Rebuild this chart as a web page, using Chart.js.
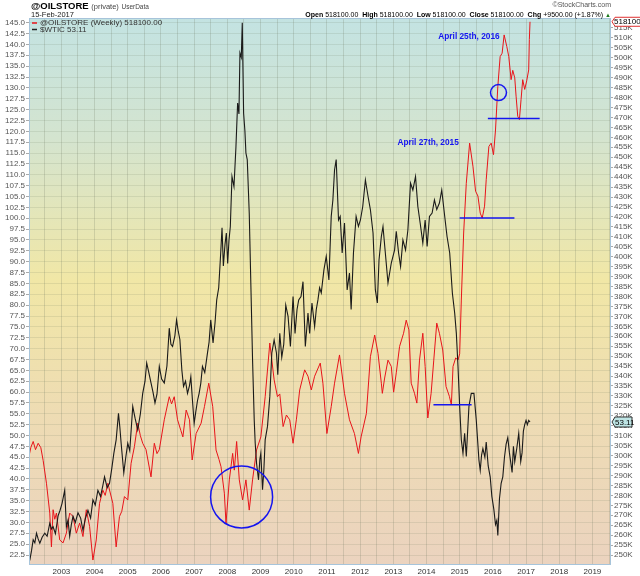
<!DOCTYPE html>
<html><head><meta charset="utf-8">
<script src="https://cdn.jsdelivr.net/npm/chart.js@4.4.1/dist/chart.umd.min.js"></script>
<style>
html,body{margin:0;padding:0;background:#fff;}
#wrap{position:relative;width:640px;height:576px;overflow:hidden;font-family:"Liberation Sans",Arial,sans-serif;}
canvas{position:absolute;left:0;top:0;}
.h{position:absolute;white-space:nowrap;color:#000;line-height:1;}
</style></head><body>
<div id="wrap">
<canvas id="c" width="640" height="576"></canvas>
<div class="h" style="left:31px;top:1px;font-size:9.5px;font-weight:bold;">@OILSTORE <span style="font-weight:normal;font-size:7.5px;color:#444">(private)</span> <span style="font-weight:normal;font-size:6.5px;color:#444">UserData</span></div>
<div class="h" style="left:31px;top:11px;font-size:7.5px;color:#222">15-Feb-2017</div>
<div class="h" style="right:29px;top:1px;font-size:7px;color:#555">©StockCharts.com</div>
<div class="h" style="right:29px;top:11px;font-size:7px;"><b>Open</b> 518100.00 &nbsp;<b>High</b> 518100.00 &nbsp;<b>Low</b> 518100.00 &nbsp;<b>Close</b> 518100.00 &nbsp;<b>Chg</b> +9500.00 (+1.87%) <span style="color:#1a7a1a;font-size:6px">▲</span></div>
</div>
<script>
// ---------------- DATA ----------------
const yearLabels = [2003,2004,2005,2006,2007,2008,2009,2010,2011,2012,2013,2014,2015,2016,2017,2018,2019];
const leftTicks = []; for (let v = 22.5; v <= 145.001; v += 2.5) leftTicks.push(+v.toFixed(1));
const rightTicks = []; for (let v = 250; v <= 515; v += 5) rightTicks.push(v);

const wticDates = [2002.02,2002.05,2002.10,2002.15,2002.20,2002.25,2002.30,2002.35,2002.42,2002.50,2002.57,2002.65,2002.70,2002.75,2002.82,2002.90,2002.96,
2003.02,2003.10,2003.15,2003.20,2003.25,2003.30,2003.35,2003.42,2003.50,2003.58,2003.65,2003.72,2003.80,2003.88,2003.95,
2004.02,2004.10,2004.18,2004.25,2004.30,2004.38,2004.45,2004.52,2004.58,2004.65,2004.72,2004.76,2004.80,2004.88,2004.94,
2005.00,2005.06,2005.15,2005.22,2005.30,2005.38,2005.45,2005.52,2005.57,2005.62,2005.70,2005.76,2005.82,2005.88,2005.95,
2006.02,2006.10,2006.18,2006.25,2006.30,2006.35,2006.42,2006.47,2006.52,2006.57,2006.63,2006.68,2006.74,2006.80,2006.86,2006.90,2006.95,
2007.00,2007.05,2007.10,2007.15,2007.20,2007.25,2007.32,2007.40,2007.45,2007.50,2007.57,2007.63,2007.68,2007.74,2007.80,2007.84,2007.88,2007.93,2007.97,
2008.01,2008.05,2008.09,2008.14,2008.20,2008.26,2008.31,2008.35,2008.38,2008.42,2008.45,2008.49,2008.53,2008.56,2008.60,2008.66,2008.71,2008.76,2008.81,2008.84,2008.88,2008.94,2008.98,
2009.01,2009.06,2009.10,2009.14,2009.21,2009.28,2009.34,2009.41,2009.48,2009.52,2009.58,2009.64,2009.70,2009.76,2009.83,2009.90,2009.98,
2010.04,2010.10,2010.15,2010.22,2010.28,2010.35,2010.43,2010.48,2010.55,2010.63,2010.68,2010.73,2010.78,2010.83,2010.91,2010.98,
2011.06,2011.13,2011.18,2011.23,2011.28,2011.35,2011.40,2011.46,2011.53,2011.61,2011.68,2011.73,2011.80,2011.88,2011.95,
2012.01,2012.08,2012.16,2012.24,2012.31,2012.39,2012.46,2012.52,2012.57,2012.64,2012.69,2012.77,2012.84,2012.94,
2013.04,2013.09,2013.16,2013.22,2013.29,2013.37,2013.44,2013.52,2013.59,2013.67,2013.74,2013.81,2013.89,2013.96,
2014.02,2014.09,2014.17,2014.24,2014.31,2014.39,2014.46,2014.55,2014.62,2014.70,2014.78,2014.85,2014.90,2014.95,
2015.00,2015.05,2015.10,2015.15,2015.20,2015.28,2015.35,2015.43,2015.50,2015.58,2015.62,2015.66,2015.70,2015.76,2015.80,2015.86,2015.92,2015.97,
2016.03,2016.08,2016.12,2016.15,2016.20,2016.25,2016.30,2016.35,2016.40,2016.45,2016.50,2016.58,2016.62,2016.66,2016.72,2016.78,2016.84,2016.88,2016.92,2016.96,
2017.00,2017.04,2017.08,2017.12];
const wticValues = [20.8,21.4,23.5,26.0,25.3,27.5,26.2,25.2,26.6,27.5,26.8,29.8,28.5,29.0,27.4,31.5,32.8,
34.4,37.4,29.0,30.5,26.8,29.5,31.4,30.0,32.2,31.0,28.2,30.8,32.8,31.0,35.2,
34.0,37.4,36.0,38.5,40.5,38.0,39.0,42.5,45.9,49.0,55.1,52.0,48.2,41.4,45.0,
48.2,46.5,56.7,54.0,51.3,55.0,59.7,62.5,66.7,65.0,62.1,60.0,57.5,59.5,65.9,
63.0,62.1,66.0,74.7,71.0,70.5,73.0,76.6,74.0,72.1,65.0,61.3,62.5,59.7,61.5,63.5,58.0,
52.8,55.5,58.0,59.7,62.0,65.9,64.5,68.9,71.5,76.6,71.3,76.0,81.2,84.0,92.0,97.8,89.0,94.0,96.6,
89.6,95.0,98.1,109.6,107.3,116.5,126.5,124.0,138.0,137.0,145.0,124.2,120.0,115.0,113.5,101.2,84.3,67.4,53.6,48.2,43.6,39.8,44.5,
45.9,37.5,42.0,49.0,52.1,59.0,69.0,72.0,69.0,64.0,73.5,68.0,71.0,80.0,77.4,70.5,82.0,
73.5,79.0,81.2,82.0,85.4,70.5,78.2,73.5,80.5,75.1,79.0,81.2,84.0,82.8,88.1,91.2,
85.8,100.4,104.2,111.1,113.5,99.6,100.4,92.0,98.9,83.5,87.4,79.0,92.0,100.4,98.1,
99.6,102.7,108.8,105.0,102.0,96.6,83.5,80.5,90.4,95.8,98.1,91.2,85.1,89.7,
92.7,97.0,92.0,88.9,95.0,92.7,97.3,108.1,106.5,109.6,102.7,98.9,94.3,99.6,
93.5,100.4,101.2,104.2,102.0,103.5,106.5,100.4,95.8,92.0,82.8,78.2,73.5,65.9,
56.7,49.0,45.9,50.5,45.2,56.7,59.7,59.7,53.6,44.4,42.0,45.5,47.0,45.0,48.5,43.0,40.5,36.0,
33.0,29.5,30.5,27.0,35.5,39.0,40.5,45.0,48.0,49.5,46.0,41.5,47.5,44.0,47.0,50.5,44.0,46.0,51.0,52.5,
53.5,52.5,53.5,53.11];

const oilDates = [2002.02,2002.08,2002.15,2002.22,2002.30,2002.38,2002.45,2002.55,2002.65,2002.70,2002.75,2002.80,2002.85,2002.95,
2003.05,2003.15,2003.25,2003.35,2003.45,2003.55,2003.65,2003.75,2003.85,2003.95,
2004.05,2004.15,2004.25,2004.32,2004.40,2004.55,2004.65,2004.75,2004.82,2004.90,
2005.00,2005.10,2005.20,2005.30,2005.38,2005.45,2005.55,2005.70,2005.80,2005.88,2005.95,
2006.10,2006.25,2006.32,2006.40,2006.50,2006.60,2006.66,2006.76,2006.86,2006.94,
2007.06,2007.21,2007.31,2007.44,2007.56,2007.66,2007.75,2007.81,2007.91,2007.96,
2008.06,2008.16,2008.21,2008.28,2008.36,2008.46,2008.56,2008.66,2008.76,2008.88,
2009.01,2009.14,2009.28,2009.41,2009.51,2009.58,2009.68,2009.78,2009.88,2009.98,
2010.08,2010.18,2010.33,2010.43,2010.53,2010.63,2010.80,2010.88,
2011.00,2011.13,2011.23,2011.38,2011.53,2011.68,2011.83,2011.95,
2012.03,2012.19,2012.31,2012.44,2012.54,2012.64,2012.67,2012.74,2012.84,2012.94,
2013.01,2013.09,2013.19,2013.31,2013.39,2013.47,2013.54,2013.64,2013.71,2013.79,2013.89,2013.96,
2014.04,2014.14,2014.22,2014.31,2014.39,2014.49,2014.59,2014.69,2014.75,2014.80,2014.88,2014.95,
2015.00,2015.05,2015.12,2015.20,2015.30,2015.40,2015.48,2015.55,2015.62,2015.68,2015.75,2015.80,2015.88,2015.95,
2016.02,2016.08,2016.15,2016.22,2016.28,2016.34,2016.42,2016.48,2016.55,2016.60,2016.66,2016.70,2016.75,2016.80,2016.85,2016.90,2016.96,
2017.02,2017.08,2017.10,2017.12];
const oilValues = [299.4,304.1,307.1,303.0,306.2,304.0,297.6,286.1,271.1,254.1,272.8,268.0,271.1,257.6,
256.1,261.0,271.1,269.4,261.0,266.1,259.3,272.8,264.4,247.5,
257.6,276.0,282.6,280.0,286.1,276.0,254.1,269.4,272.0,279.4,
277.7,296.1,304.5,316.3,310.0,306.2,303.0,289.3,306.2,301.0,303.0,
318.0,329.6,326.0,329.6,318.0,312.6,309.4,322.9,318.0,297.8,
311.1,316.3,324.6,336.4,324.6,302.8,298.0,294.4,281.1,265.9,
287.8,301.1,292.7,307.1,287.8,277.7,287.8,272.6,287.8,302.8,
309.4,329.6,356.6,338.1,329.6,331.0,314.6,320.4,318.0,306.2,
318.0,333.0,343.1,339.9,333.0,339.9,346.5,336.4,
311.1,324.6,336.4,350.6,331.3,318.0,311.1,301.1,
309.4,321.2,349.7,360.6,351.4,336.4,331.3,339.0,348.0,344.8,
331.9,341.6,354.9,361.5,368.1,363.2,336.4,331.3,326.4,348.0,361.5,344.8,
318.9,331.3,348.0,366.6,361.5,353.1,334.7,329.8,325.5,344.8,349.1,348.0,
351.2,378.2,411.9,436.9,457.1,445.5,432.9,430.5,421.9,419.4,425.4,438.7,455.4,457.1,
451.3,463.7,485.6,500.6,502.3,511.5,505.7,500.6,489.0,493.7,489.9,480.7,470.6,468.9,479.0,489.0,484.1,
488.4,493.9,509.2,518.1];

// annotations, in data coordinates (x: year, y: right-axis K)
const annLines = [{y:469.5,x0:2015.85,x1:2017.41},{y:419.4,x0:2015.0,x1:2016.65},{y:325.6,x0:2014.21,x1:2015.36}];
const annCircles = [{x:2016.17,y:482.5,r:8},{x:2008.43,y:279.2,r:31}];
const annTexts = [{t:'April 25th, 2016',x:2015.28,y:510.6},{t:'April 27th, 2015',x:2014.05,y:457.2}];

// ---------------- CHART ----------------
const FF = '"Liberation Sans", Arial, sans-serif';
const halfYears = []; for (let y = 2002.5; y <= 2019.5; y += 0.5) halfYears.push(y);

const bgPlugin = {
  id:'bg',
  beforeDraw(chart){
    const {ctx, chartArea:a} = chart;
    const g = ctx.createLinearGradient(0,a.top,0,a.bottom);
    g.addColorStop(0,'#c3e3e2');
    g.addColorStop(0.22,'#d4e4cf');
    g.addColorStop(0.48,'#f1e7a6');
    g.addColorStop(0.72,'#eedcb3');
    g.addColorStop(1,'#ebd3bf');
    ctx.save(); ctx.fillStyle = g;
    ctx.fillRect(a.left,a.top,a.right-a.left,a.bottom-a.top);
    ctx.restore();
  },
  afterDatasetsDraw(chart){
    const {ctx} = chart, xs = chart.scales.x, ys = chart.scales.y1;
    ctx.save();
    ctx.strokeStyle = '#1414f0'; ctx.lineWidth = 1.5;
    annLines.forEach(l=>{
      const y = ys.getPixelForValue(l.y);
      ctx.beginPath(); ctx.moveTo(xs.getPixelForValue(l.x0),y); ctx.lineTo(xs.getPixelForValue(l.x1),y); ctx.stroke();
    });
    annCircles.forEach(c=>{
      ctx.beginPath(); ctx.arc(xs.getPixelForValue(c.x), ys.getPixelForValue(c.y), c.r, 0, Math.PI*2); ctx.stroke();
    });
    ctx.fillStyle = '#1414f0'; ctx.font = 'bold 8.3px ' + FF; ctx.textAlign='center'; ctx.textBaseline='middle';
    annTexts.forEach(t=> ctx.fillText(t.t, xs.getPixelForValue(t.x), ys.getPixelForValue(t.y)));
    ctx.restore();
  },
  afterDraw(chart){
    const {ctx, chartArea:a} = chart;
    ctx.save();
    ctx.strokeStyle = '#a7c4da'; ctx.lineWidth = 1;
    ctx.strokeRect(a.left+0.5,a.top+0.5,a.right-a.left-1,a.bottom-a.top-1);
    // legend
    ctx.font = '8px ' + FF; ctx.textBaseline='middle'; ctx.textAlign='left';
    ctx.lineWidth = 1.5;
    ctx.strokeStyle = '#e8141a'; ctx.beginPath(); ctx.moveTo(a.left+3,a.top+5); ctx.lineTo(a.left+8,a.top+5); ctx.stroke();
    ctx.strokeStyle = '#222'; ctx.beginPath(); ctx.moveTo(a.left+3,a.top+11.5); ctx.lineTo(a.left+8,a.top+11.5); ctx.stroke();
    ctx.fillStyle = '#333';
    ctx.fillText('@OILSTORE (Weekly) 518100.00', a.left+11, a.top+5);
    ctx.fillText('$WTIC ' + wticValues[wticValues.length-1].toFixed(2), a.left+11, a.top+11.5);
    // last value tags
    const ys = chart.scales.y1, yl = chart.scales.y;
    const oy = ys.getPixelForValue(oilValues[oilValues.length-1]);
    ctx.font = '8px ' + FF;
    ctx.fillStyle = '#fff'; ctx.strokeStyle = '#e03030'; ctx.lineWidth = 1;
    ctx.beginPath(); ctx.moveTo(a.right+1,oy); ctx.lineTo(a.right+4,oy-4.5); ctx.lineTo(642,oy-4.5); ctx.lineTo(642,oy+4.5); ctx.lineTo(a.right+4,oy+4.5); ctx.closePath(); ctx.fill(); ctx.stroke();
    ctx.fillStyle = '#000'; ctx.fillText('518100.0', a.right+3, oy+0.5);
    const wy = yl.getPixelForValue(wticValues[wticValues.length-1]);
    ctx.fillStyle = '#bfe6e6'; ctx.strokeStyle = '#333';
    ctx.beginPath(); ctx.moveTo(a.right+1,wy); ctx.lineTo(a.right+4,wy-5); ctx.lineTo(a.right+21,wy-5); ctx.lineTo(a.right+21,wy+5); ctx.lineTo(a.right+4,wy+5); ctx.closePath(); ctx.fill(); ctx.stroke();
    ctx.fillStyle = '#000'; ctx.fillText(wticValues[wticValues.length-1].toFixed(2), a.right+4, wy+0.5);
    ctx.restore();
  }
};

new Chart(document.getElementById('c'), {
  type:'line',
  data:{datasets:[
    {label:'$WTIC', data: wticDates.map((x,i)=>({x, y:wticValues[i]})), borderColor:'#1a1a1a', borderWidth:1.1, pointRadius:0, tension:0, yAxisID:'y'},
    {label:'@OILSTORE', data: oilDates.map((x,i)=>({x, y:oilValues[i]})), borderColor:'#e8141a', borderWidth:1, pointRadius:0, tension:0, yAxisID:'y1'}
  ]},
  options:{
    responsive:false, animation:false, devicePixelRatio:1,
    layout:{padding:{top:18,left:0,right:0,bottom:0}},
    plugins:{legend:{display:false}, tooltip:{enabled:false}},
    scales:{
      x:{type:'linear', min:2002.024, max:2019.56,
        afterBuildTicks:s=>{ s.ticks = halfYears.map(v=>({value:v})); },
        afterFit:s=>{ s.height = 11; },
        ticks:{callback:v=> (Number.isInteger(v) && yearLabels.includes(v)) ? String(v) : '', autoSkip:false, maxRotation:0, padding:0, font:{size:8,family:FF}, color:'#333'},
        grid:{color:'rgba(110,120,95,0.22)', tickLength:2, tickColor:'rgba(0,0,0,0)'}, border:{display:false}},
      y:{position:'left', min:20.2, max:146.08,
        afterBuildTicks:s=>{ s.ticks = leftTicks.map(v=>({value:v})); },
        afterFit:s=>{ s.width = 29; },
        ticks:{callback:v=> Number(v).toFixed(1), autoSkip:false, padding:1, font:{size:8,family:FF}, color:'#555'},
        grid:{color:'rgba(110,120,95,0.15)', tickLength:3, tickColor:'#aaa'}, border:{display:false}},
      y1:{position:'right', min:245, max:520,
        afterBuildTicks:s=>{ s.ticks = rightTicks.map(v=>({value:v})); },
        afterFit:s=>{ s.width = 29; },
        ticks:{callback:v=> v + 'K', autoSkip:false, padding:1, font:{size:8,family:FF}, color:'#555'},
        grid:{drawOnChartArea:false, tickLength:2, tickColor:'#aaa'}, border:{display:false}}
    }
  },
  plugins:[bgPlugin]
});
</script>
</body></html>
